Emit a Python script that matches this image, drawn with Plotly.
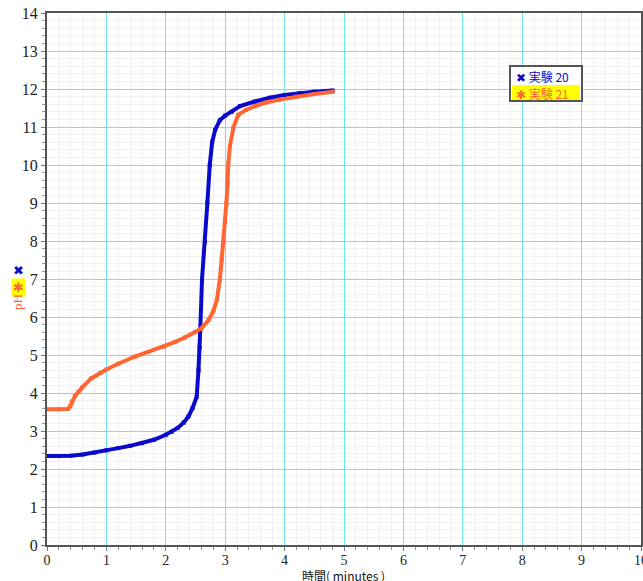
import plotly.graph_objects as go

# ---- data ----
exp20_name = "実験 20"
exp20_time = [0.0, 0.2, 0.4, 0.6, 0.8, 1.0, 1.2, 1.4, 1.6, 1.8, 2.0, 2.1, 2.2, 2.3, 2.38, 2.45,
              2.52, 2.55, 2.57, 2.58, 2.61, 2.66, 2.70, 2.74, 2.78, 2.83, 2.91, 3.0, 3.11, 3.25,
              3.5, 3.75, 4.0, 4.25, 4.5, 4.81]
exp20_ph = [2.34, 2.34, 2.35, 2.38, 2.43, 2.49, 2.55, 2.61, 2.68, 2.77, 2.90, 2.98, 3.08, 3.22, 3.38, 3.60,
            3.90, 4.60, 5.20, 5.66, 7.00, 7.98, 9.00, 10.0, 10.6, 10.92, 11.18, 11.30, 11.40, 11.55,
            11.67, 11.77, 11.84, 11.89, 11.93, 11.96]

exp21_name = "実験 21"
exp21_time = [0.0, 0.2, 0.35, 0.39, 0.42, 0.47, 0.53, 0.6, 0.75, 0.9, 1.0, 1.2, 1.48, 1.7, 1.97, 2.15,
              2.32, 2.5, 2.6, 2.72, 2.8, 2.86, 2.91, 2.94, 2.97, 3.0, 3.02, 3.04, 3.05, 3.08, 3.14,
              3.22, 3.35, 3.5, 3.7, 3.92, 4.2, 4.5, 4.81]
exp21_ph = [3.57, 3.57, 3.58, 3.65, 3.77, 3.92, 4.03, 4.16, 4.39, 4.53, 4.62, 4.77, 4.96, 5.08, 5.22, 5.34,
            5.46, 5.60, 5.70, 5.92, 6.15, 6.45, 6.99, 7.5, 7.98, 8.5, 9.0, 9.5, 10.0, 10.5, 11.0,
            11.32, 11.45, 11.55, 11.65, 11.72, 11.80, 11.87, 11.93]

x_ticks = list(range(0, 11))
y_ticks = list(range(0, 15))
x_title = "時間( minutes )"
y_title = "pH"

BLUE = "#0A0ACD"
ORANGE = "#FF6633"
TICKFONT = dict(family="Liberation Serif, serif", size=16, color="#222222")
CJK = "Noto Sans CJK JP, sans-serif"

fig = go.Figure()
fig.add_trace(go.Scatter(x=exp20_time, y=exp20_ph, name=exp20_name, mode="lines+markers",
                         line=dict(color=BLUE, width=4), marker=dict(color=BLUE, size=4, symbol="square"),
                         showlegend=False))
fig.add_trace(go.Scatter(x=exp21_time, y=exp21_ph, name=exp21_name, mode="lines+markers",
                         line=dict(color=ORANGE, width=4), marker=dict(color=ORANGE, size=4, symbol="square"),
                         showlegend=False))

axis_common = dict(
    showgrid=True, gridcolor="#6EE4EC", gridwidth=1,
    showline=True, linecolor="#555555", linewidth=2, mirror=True,
    ticks="outside", ticklen=4, tickcolor="#777777",
    zeroline=False, automargin=False, ticklabeloverflow="allow",
    minor=dict(dtick=0.2, showgrid=True, gridcolor="#F0F0F0", gridwidth=1,
               ticks="outside", ticklen=3, tickcolor="#999999"),
)

fig.update_xaxes(range=[0, 10], tickvals=x_ticks, ticktext=[str(v) for v in x_ticks],
                 tickfont=dict(family="Liberation Serif, serif", size=14, color="#222222"),
                 ticklabelstandoff=-3, **axis_common)
fig.update_yaxes(range=[0, 14], tickvals=y_ticks, ticktext=[str(v) for v in y_ticks],
                 tickfont=TICKFONT, **axis_common)

# paper-coordinate helpers (plot area 47..641 x, 13..545 y)
def px_x(p):
    return (p - 47) / 594.0

def px_y(p):
    return (545 - p) / 532.0

shapes = [
    # legend box
    dict(type="rect", xref="paper", yref="paper", x0=px_x(510), x1=px_x(582), y0=px_y(101), y1=px_y(66),
         fillcolor="white", line=dict(color="#555555", width=2), layer="above"),
    dict(type="rect", xref="paper", yref="paper", x0=px_x(512), x1=px_x(580), y0=px_y(100), y1=px_y(85),
         fillcolor="#FFFF00", line=dict(width=0), layer="above"),
]

annotations = [
    dict(xref="paper", yref="paper", x=px_x(514), y=px_y(76), xanchor="left", yanchor="middle",
         text=f"✖ {exp20_name}", showarrow=False,
         font=dict(family=CJK, size=12, color=BLUE)),
    dict(xref="paper", yref="paper", x=px_x(514), y=px_y(93), xanchor="left", yanchor="middle",
         text=f"✱ {exp21_name}", showarrow=False,
         font=dict(family=CJK, size=12, color=ORANGE)),
    # y-axis title with its series markers
    dict(xref="paper", yref="paper", x=px_x(18), y=px_y(270), xanchor="center", yanchor="middle",
         text="✖", showarrow=False, font=dict(family="DejaVu Sans", size=13, color=BLUE)),
    dict(xref="paper", yref="paper", x=px_x(18), y=px_y(287), xanchor="center", yanchor="middle",
         text="✱", showarrow=False, bgcolor="#FFFF00", borderpad=1,
         font=dict(family="DejaVu Sans", size=13, color=ORANGE)),
    dict(xref="paper", yref="paper", x=px_x(18), y=px_y(302), xanchor="center", yanchor="middle",
         text=y_title, textangle=-90, showarrow=False,
         font=dict(family="Liberation Serif, serif", size=13, color=ORANGE)),
    # x-axis title
    dict(xref="paper", yref="paper", x=px_x(343), y=px_y(575), xanchor="center", yanchor="middle",
         text=x_title, showarrow=False,
         font=dict(family=CJK, size=12, color="#111111")),
]

fig.update_layout(
    width=643, height=581,
    margin=dict(l=47, r=2, t=13, b=36),
    paper_bgcolor="white", plot_bgcolor="white",
    shapes=shapes, annotations=annotations,
    showlegend=False,
)

fig.write_html("out.html", config={"displayModeBar": False},
               post_script="document.body.style.margin='0';document.body.style.padding='0';")
